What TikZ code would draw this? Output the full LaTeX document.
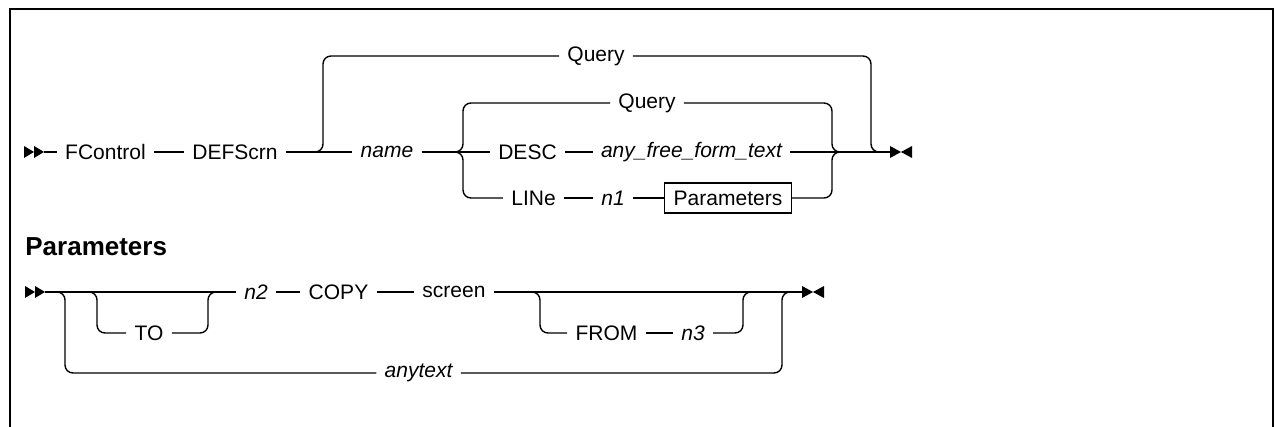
\documentclass[tikz,border=0pt]{standalone}
\usepackage{fontspec}
\setmainfont{Liberation Sans}
\tikzset{
    rail/.style     = {line width=0.7pt, rounded corners=4pt},
    kw/.style       = {inner xsep=4pt, inner ysep=1pt, font=\fontsize{10.5}{12}\selectfont},
    var/.style      = {kw, font=\fontsize{10.5}{12}\selectfont\itshape},
    parambox/.style = {kw, draw, line width=0.7pt, inner xsep=4.5pt, minimum height=15pt},
    heading/.style  = {anchor=west, inner sep=0pt, font=\fontsize{13}{15}\selectfont\bfseries},
    startmark/.pic  = {\fill (-20,-6) -- (-10,0) -- (-20,6) -- cycle; \fill (-10,-6) -- (0,0) -- (-10,6) -- cycle;},
    endmark/.pic    = {\fill (0,-6) -- (11,0) -- (0,6) -- cycle; \fill (22,-6) -- (11,0) -- (22,6) -- cycle;}
}

\begin{document}
\begin{tikzpicture}[x=0.5pt, y=-0.5pt]
            \useasboundingbox (0,0) rectangle (1275,427);
            \draw[line width=1pt] (9.5,427) -- (9.5,9.5) -- (1272.5,9.5) -- (1272.5,427);

            \coordinate (s1)    at ( 44,152);
            \coordinate (fork1) at (315,152);
            \coordinate (fork2) at (455,152);
            \coordinate (join2) at (840,152);
            \coordinate (join1) at (879,152);
            \coordinate (e1)    at (890,152);
            \node[kw]       (fctl)     at (105.5,152) {FControl};
            \node[kw]       (defscrn)  at (235.0,152) {DEFScrn};
            \node[var]      (name)     at (387.0,152) {name};
            \node[kw]       (qry1)     at (596.0, 56) {Query};
            \node[kw]       (qry2)     at (647.0,103) {Query};
            \node[kw]       (desc)     at (527.5,152) {DESC};
            \node[var]      (freetext) at (691.5,152) {any\_free\_form\_text};
            \node[kw]       (linekw)   at (533.5,198) {LINe};
            \node[var]      (nOne)     at (613.0,198) {n1};
            \node[parambox] (pbox)     at (728.0,198) {Parameters};
            \pic at (s1) {startmark};
            \pic at (e1) {endmark};
            \draw[rail] (s1) -- (fctl);
            \draw[rail] (fctl) -- (defscrn);
            \draw[rail] (defscrn) -- (name);
            \draw[rail] (fork1) -| (323,56) -- (qry1);
            \draw[rail] (qry1) -| (871,152) -- (join1);
            \draw[rail] (name) -- (desc);
            \draw[rail] (fork2) -| (463,103) -- (qry2);
            \draw[rail] (fork2) -| (463,198) -- (linekw);
            \draw[rail] (desc) -- (freetext);
            \draw[rail] (freetext) -- (e1);
            \draw[rail] (linekw) -- (nOne);
            \draw[rail] (nOne) -- (pbox);
            \draw[rail] (qry2) -| (832,152) -- (join2);
            \draw[rail] (pbox) -| (832,152) -- (join2);

            \node[heading]  (phead)    at (25,247) {Parameters};
            \coordinate (s2)    at ( 45,292);
            \coordinate (fork4) at ( 57,292);
            \coordinate (fork3) at ( 89,292);
            \coordinate (join3) at (216,292);
            \coordinate (fork5) at (532,292);
            \coordinate (join6) at (751,292);
            \coordinate (join5) at (790,292);
            \coordinate (e2)    at (802,292);
            \node[kw]       (to)       at (149.0,333) {TO};
            \node[var]      (nTwo)     at (256.0,292) {n2};
            \node[kw]       (copy)     at (338.5,292) {COPY};
            \node[kw]       (screen)   at (454.0,292) {screen};
            \node[kw]       (from)     at (606.5,333) {FROM};
            \node[var]      (nThree)   at (693.0,333) {n3};
            \node[var]      (anytext)  at (418.5,373) {anytext};
            \pic at (s2) {startmark};
            \pic at (e2) {endmark};
            \draw[rail] (s2) -- (nTwo);
            \draw[rail] (fork3) -| (97,333) -- (to);
            \draw[rail] (to) -| (208,292) -- (join3);
            \draw[rail] (fork4) -| (65,373) -- (anytext);
            \draw[rail] (anytext) -| (782,292) -- (join5);
            \draw[rail] (nTwo) -- (copy);
            \draw[rail] (copy) -- (screen);
            \draw[rail] (screen) -- (e2);
            \draw[rail] (fork5) -| (540,333) -- (from);
            \draw[rail] (from) -- (nThree);
            \draw[rail] (nThree) -| (743,292) -- (join6);
        \end{tikzpicture}
\end{document}
